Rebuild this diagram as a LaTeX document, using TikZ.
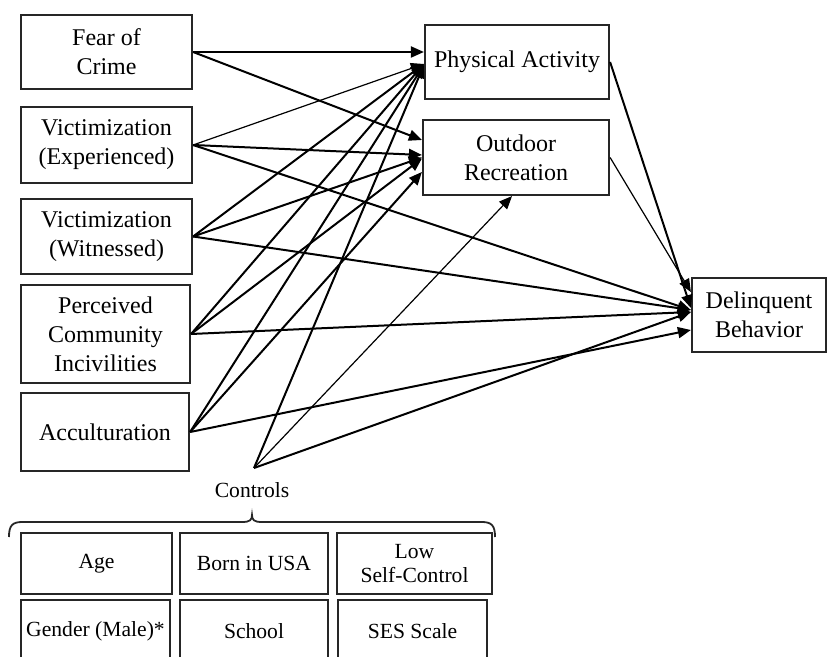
\documentclass[tikz,border=0pt]{standalone}
\usepackage{fontspec}
\setmainfont{Liberation Serif}
\usetikzlibrary{arrows.meta,calc}
\begin{document}
\begin{tikzpicture}[x=0.5pt,y=-0.5pt,
  box/.style={draw=black!85, line width=1.1pt, inner sep=1pt, align=center, font=\fontsize{12}{14.5}\selectfont},
  cbox/.style={box, font=\fontsize{10.8}{12}\selectfont},
  link/.style={draw=black, line width=1pt, -{Triangle[length=6.5pt,width=5.5pt]}},
  thinlink/.style={link, line width=0.6pt}]
\useasboundingbox (0,0) rectangle (830,657);
\clip (0,0) rectangle (830,657);

% left column
\node[box, minimum width=85.5pt, minimum height=37pt]   (fear) at (106.5,52)  {Fear of\\Crime};
\node[box, minimum width=85.5pt, minimum height=38pt]   (ve)   at (106.5,145) {Victimization\\(Experienced)};
\node[box, minimum width=85.5pt, minimum height=37.5pt] (vw)   at (106.5,236.5) {Victimization\\(Witnessed)};
\node[box, minimum width=84.5pt, minimum height=49pt]   (perc) at (105.5,334) {Perceived\\Community\\Incivilities};
\node[box, minimum width=84pt,   minimum height=39pt]   (acc)  at (105,432)   {Acculturation};

% middle and right
\node[box, minimum width=92pt, minimum height=37pt]   (pa) at (517,62)    {Physical Activity};
\node[box, minimum width=93pt, minimum height=37.5pt] (or) at (516,157.5) {Outdoor\\Recreation};
\node[box, minimum width=67pt, minimum height=37pt]   (db) at (759,315)   {Delinquent\\Behavior};

% controls
\coordinate (ctrl) at (254,468);
\node[font=\fontsize{10.8}{12}\selectfont, inner sep=0pt] (ctrltext) at (252,490) {Controls};
\draw[line width=0.9pt, draw=black!85]
  (9,537) .. controls (9,526) and (12,522) .. (22,522) -- (242,522)
  .. controls (250,522) and (252,520) .. (252,515)
  .. controls (252,520) and (254,522) .. (262,522) -- (482,522)
  .. controls (492,522) and (495,526) .. (495,537);

\node[cbox, minimum width=75.5pt, minimum height=30.5pt] (age)    at (96.5,563.5)  {Age};
\node[cbox, minimum width=74pt,   minimum height=30.5pt] (born)   at (254,563.5)   {Born in USA};
\node[cbox, minimum width=77.5pt, minimum height=30.5pt] (low)    at (414.5,563.5) {Low\\Self-Control};
\node[cbox, minimum width=74.5pt, minimum height=31pt]   (gender) at (95.5,631)    {Gender (Male)*};
\node[cbox, minimum width=74pt,   minimum height=31pt]   (school) at (254,631)     {School};
\node[cbox, minimum width=74.5pt, minimum height=31pt]   (ses)    at (412.5,631)   {SES Scale};

% connectors
\draw[link] (fear.east) -- ([yshift=5pt]pa.west);
\draw[link] (fear.east) -- ([yshift=8.75pt]or.west);

\draw[thinlink] (ve.east) -- ([yshift=-1pt]pa.west);
\draw[link] (ve.east) -- ([yshift=1.25pt]or.west);
\draw[link] (ve.east) -- ([yshift=2.5pt]db.west);

\draw[link] (vw.east) -- ([yshift=-1pt]pa.west);
\draw[link] (vw.east) -- ([yshift=0pt]or.west);
\draw[link] (vw.east) -- ([yshift=2.5pt]db.west);

\draw[link] (perc.east) -- ([yshift=-1pt]pa.west);
\draw[link] (perc.east) -- ([yshift=-0.5pt]or.west);
\draw[link] (perc.east) -- ([yshift=1.5pt]db.west);

\draw[link] (acc.east) -- ([yshift=-1.5pt]pa.west);
\draw[link] (acc.east) -- ([yshift=-7.25pt]or.west);
\draw[link] (acc.east) -- ([yshift=-7.5pt]db.west);

\draw[link] (ctrl) -- ([yshift=-1.5pt]pa.west);
\draw[thinlink] (ctrl) -- ([xshift=-2pt]or.south);
\draw[link] (ctrl) -- ([yshift=1.5pt]db.west);

\draw[link] (pa.east) -- ([yshift=3.5pt]db.west);
\draw[thinlink] (or.east) -- ([yshift=11.5pt]db.west);
\end{tikzpicture}
\end{document}
